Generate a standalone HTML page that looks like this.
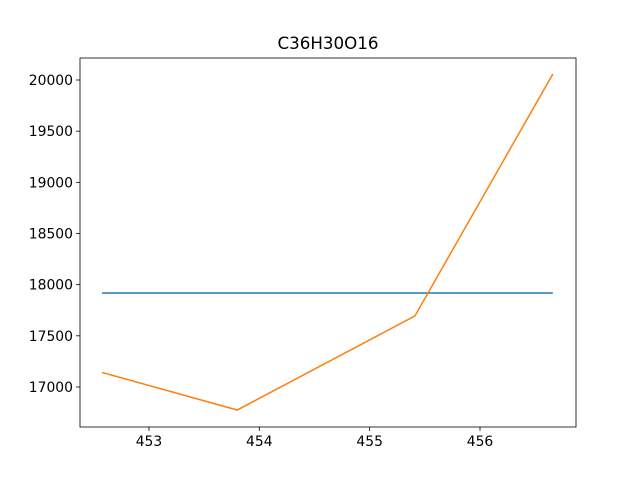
<!DOCTYPE html>
<html><head><meta charset="utf-8"><style>body{margin:0;background:#fff}svg{display:block;font-family:"DejaVu Sans","Liberation Sans",sans-serif}</style></head>
<body>
<svg id="chart" width="640" height="480">
<rect x="0" y="0" width="640" height="480" fill="#fff"/>
<text x="328" y="49" font-size="16.7" text-anchor="middle">C36H30O16</text>
<g id="plot"></g>
</svg>
<script>
const xTicks=[453,454,455,456];
const yTicks=[17000,17500,18000,18500,19000,19500,20000];
const seriesBlueX=[452.575,456.66];
const seriesBlueY=[17919,17919];
const seriesOrangeX=[452.575,453.8,455.41,456.66];
const seriesOrangeY=[17142,16775,17694,20059];
const L=80,R=576,T=58,B=427,xmin=452.375,xmax=456.87,ymin=16609,ymax=20215;
const sx=v=>L+(v-xmin)/(xmax-xmin)*(R-L);
const sy=v=>B-(v-ymin)/(ymax-ymin)*(B-T);
const NS='http://www.w3.org/2000/svg',g=document.getElementById('plot');
function mk(t,a){const e=document.createElementNS(NS,t);for(const k in a)e.setAttribute(k,a[k]);g.appendChild(e);return e;}
xTicks.forEach(v=>{const x=sx(v);
const t=mk('line',{x1:x,x2:x,y1:B,y2:B+4,stroke:'#000','stroke-width':0.8});


const l=mk('text',{x:x,y:B+19,'font-size':13.9,'text-anchor':'middle'});l.textContent=v;

});
yTicks.forEach(v=>{const y=sy(v);
const t=mk('line',{x1:L-4,x2:L,y1:y,y2:y,stroke:'#000','stroke-width':0.8});


const l=mk('text',{x:L-7,y:y+5,'font-size':13.9,'text-anchor':'end'});l.textContent=v;

});
function line(xs,ys,c,n){const p=mk('polyline',{points:xs.map((x,i)=>sx(x)+','+sy(ys[i])).join(' '),fill:'none',stroke:c,'stroke-width':1.5});

}
line(seriesBlueX,seriesBlueY,'#1f77b4','series-blue-line');
line(seriesOrangeX,seriesOrangeY,'#ff7f0e','series-orange-line');
const f=mk('rect',{x:L,y:T,width:R-L,height:B-T,fill:'none',stroke:'#000','stroke-width':0.8});


</script>
</body></html>
